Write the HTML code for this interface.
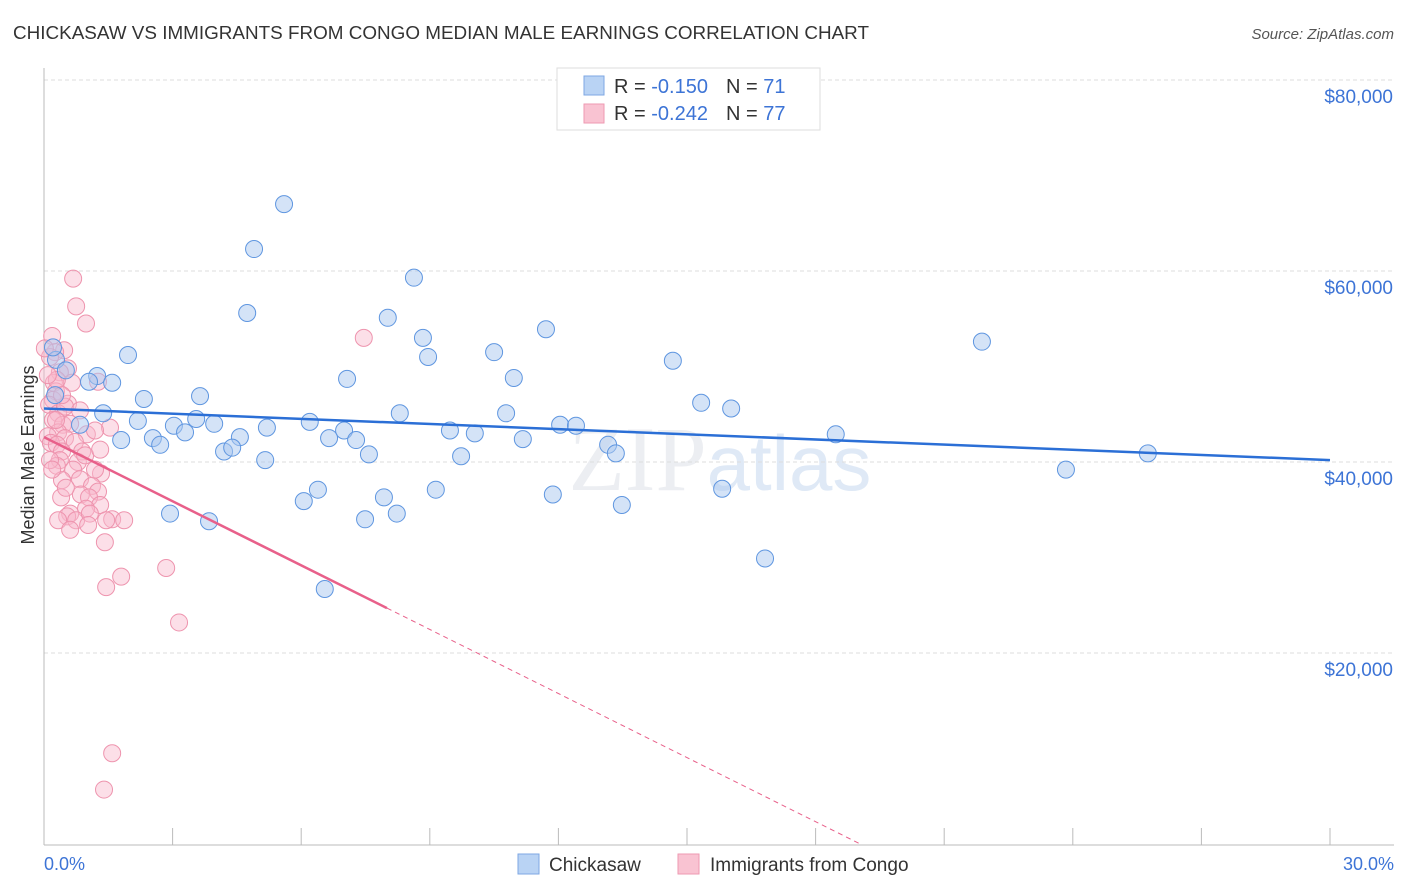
<!DOCTYPE html>
<html><head><meta charset="utf-8"><style>
body{margin:0;background:#fff;font-family:"Liberation Sans",sans-serif}
svg{display:block}
</style></head><body>
<svg id="chart" width="1406" height="892" xmlns="http://www.w3.org/2000/svg">
<text x="13" y="39" font-size="18" fill="#333" textLength="856" lengthAdjust="spacingAndGlyphs" font-family="Liberation Sans, sans-serif">CHICKASAW VS IMMIGRANTS FROM CONGO MEDIAN MALE EARNINGS CORRELATION CHART</text>
<text x="1394" y="39" font-size="15" fill="#555" text-anchor="end" font-style="italic">Source: ZipAtlas.com</text>
<text x="720" y="490" font-size="92" text-anchor="middle" fill="#eceef2" font-family="Liberation Serif, serif">ZIP<tspan fill="#dfe9f6" font-family="Liberation Sans, sans-serif" font-size="78">atlas</tspan></text>
<g id="grid"></g>
<g id="axes"></g>
<g id="pts"></g>
<g id="lines"></g>
<text transform="translate(34,455) rotate(-90)" font-size="18" fill="#333" text-anchor="middle">Median Male Earnings</text>
<text x="44" y="870" font-size="18" fill="#3d74d6">0.0%</text>
<text x="1394" y="870" font-size="18" fill="#3d74d6" text-anchor="end">30.0%</text>
<g>
<rect x="557" y="68" width="263" height="62" fill="#fff" stroke="#ddd"/>
<rect x="584" y="76" width="20" height="19" fill="#b9d3f4" stroke="#7ea7e3"/>
<rect x="584" y="104" width="20" height="19" fill="#f9c3d2" stroke="#ee9ab2"/>
<text x="614" y="93" font-size="20" fill="#333">R = <tspan fill="#3d74d6">-0.150</tspan><tspan dx="18">N = </tspan><tspan fill="#3d74d6">71</tspan></text>
<text x="614" y="120" font-size="20" fill="#333">R = <tspan fill="#3d74d6">-0.242</tspan><tspan dx="18">N = </tspan><tspan fill="#3d74d6">77</tspan></text>
</g>
<g>
<rect x="518" y="854" width="21" height="20" fill="#b9d3f4" stroke="#7ea7e3"/>
<text x="549" y="871" font-size="19" fill="#333">Chickasaw</text>
<rect x="678" y="854" width="21" height="20" fill="#f9c3d2" stroke="#ee9ab2"/>
<text x="710" y="871" font-size="19" fill="#333">Immigrants from Congo</text>
</g>
</svg>
<script>
const yTicks=[20000,40000,60000,80000];
const yTickLabels=["$20,000","$40,000","$60,000","$80,000"];
const blueX=[5.60,4.90,8.63,4.74,8.02,11.71,8.84,1.96,10.50,8.96,14.67,21.88,0.28,0.21,0.51,1.24,1.05,1.59,7.07,10.96,3.64,2.33,15.33,16.03,1.38,8.30,10.78,2.19,3.55,3.97,3.03,6.20,5.20,7.00,9.47,12.04,12.41,3.29,10.05,2.54,4.57,6.65,7.28,11.17,18.47,1.80,2.71,13.16,4.20,4.39,7.58,9.73,13.34,5.16,25.75,23.84,6.39,9.14,11.87,15.82,6.06,7.93,13.48,2.94,7.49,8.23,3.85,16.82,6.55,0.84,0.26];
const blueY=[67000,62300,59300,55600,55100,53900,53000,51200,51500,51000,50600,52600,50700,52000,49600,49000,48400,48300,48700,48800,46900,46600,46200,45600,45100,45100,45100,44300,44500,44000,43800,44200,43600,43300,43300,43900,43800,43100,43000,42500,42600,42500,42300,42400,42900,42300,41800,41800,41100,41500,40800,40600,40900,40200,40900,39200,37100,37100,36600,37200,35900,36300,35500,34600,34000,34600,33800,29900,26700,43900,47000];
const pinkX=[0.68,0.75,0.98,0.19,0.47,0.26,0.14,0.56,0.37,0.23,0.65,0.28,0.21,0.12,0.56,0.33,0.21,0.44,0.61,0.33,1.00,0.09,0.49,0.16,0.30,0.72,0.42,0.89,0.37,0.79,0.30,0.68,1.33,0.42,0.84,1.12,1.26,0.86,0.40,1.05,1.31,0.98,0.61,0.54,0.75,1.07,1.59,1.45,1.87,1.03,1.42,1.80,1.45,2.85,3.15,1.59,1.40,7.46,1.26,1.54,0.28,0.49,0.96,1.19,0.30,0.42,0.02,0.14,0.09,0.33,0.61,0.19,1.19,0.84,0.51,1.31];
const pinkY=[59200,56300,54500,53200,51700,51500,51000,49800,49400,48300,48300,47400,46500,46000,46100,45100,44400,43900,44000,43100,42900,42700,42500,42000,41800,42100,41100,41100,40200,40000,39600,39200,38800,38100,38200,37500,36900,36600,36300,36300,35500,35100,34600,34300,33900,34600,34000,33900,33900,33400,31600,28000,26900,28900,23200,9500,5700,53000,48400,43600,44400,45800,40700,39200,48600,47000,51900,40200,49100,33900,32900,39200,43300,45400,37300,41300];
const blueTrend=[45600,40200];
const pinkTrend=[42600,-2237];
const NS="http://www.w3.org/2000/svg";
const X=v=>44+v/30*1286;
const Y=v=>844-v/20000*191;
function mk(tag,attrs,parent){const e=document.createElementNS(NS,tag);for(const k in attrs)e.setAttribute(k,attrs[k]);document.getElementById(parent).appendChild(e);return e;}
yTicks.forEach((t,i)=>{
 const l=mk('line',{x1:44,x2:1394,y1:Y(t),y2:Y(t),stroke:'#ddd','stroke-dasharray':'4,3'},'grid');
 
 
 const tx=mk('text',{x:1393,y:Y(t)+23,'font-size':19,fill:'#3d74d6','text-anchor':'end'},'grid');
 tx.textContent=yTickLabels[i];
 
 
});
const ax=mk('line',{x1:44,x2:1394,y1:845,y2:845,stroke:'#bbb'},'axes');


const ay=mk('line',{x1:44,x2:44,y1:68,y2:845,stroke:'#bbb'},'axes');


for(let i=1;i<=10;i++){
 const t=mk('line',{x1:X(i*3),x2:X(i*3),y1:828,y2:845,stroke:'#bbb'},'axes');
 
 
}
pinkX.forEach((v,i)=>{
 const c=mk('circle',{cx:X(v),cy:Y(pinkY[i]),r:8.5,fill:'rgba(248,184,203,0.45)',stroke:'#ee94ae','stroke-width':1},'pts');
 
 
});
blueX.forEach((v,i)=>{
 const c=mk('circle',{cx:X(v),cy:Y(blueY[i]),r:8.5,fill:'rgba(170,200,240,0.5)',stroke:'#5f96e0','stroke-width':1},'pts');
 
 
});
const bl=mk('line',{x1:X(0),y1:Y(blueTrend[0]),x2:X(30),y2:Y(blueTrend[1]),stroke:'#2b6fd6','stroke-width':2.5},'lines');


const pe=8, pz=-pinkTrend[0]/pinkTrend[1];
const pl=mk('line',{x1:X(0),y1:Y(pinkTrend[0]),x2:X(pe),y2:Y(pinkTrend[0]+pinkTrend[1]*pe),stroke:'#e8608a','stroke-width':2.5},'lines');


const pd=mk('line',{x1:X(pe),y1:Y(pinkTrend[0]+pinkTrend[1]*pe),x2:X(pz),y2:Y(0),stroke:'#e8608a','stroke-width':1,'stroke-dasharray':'5,4'},'lines');


</script>
</body></html>
